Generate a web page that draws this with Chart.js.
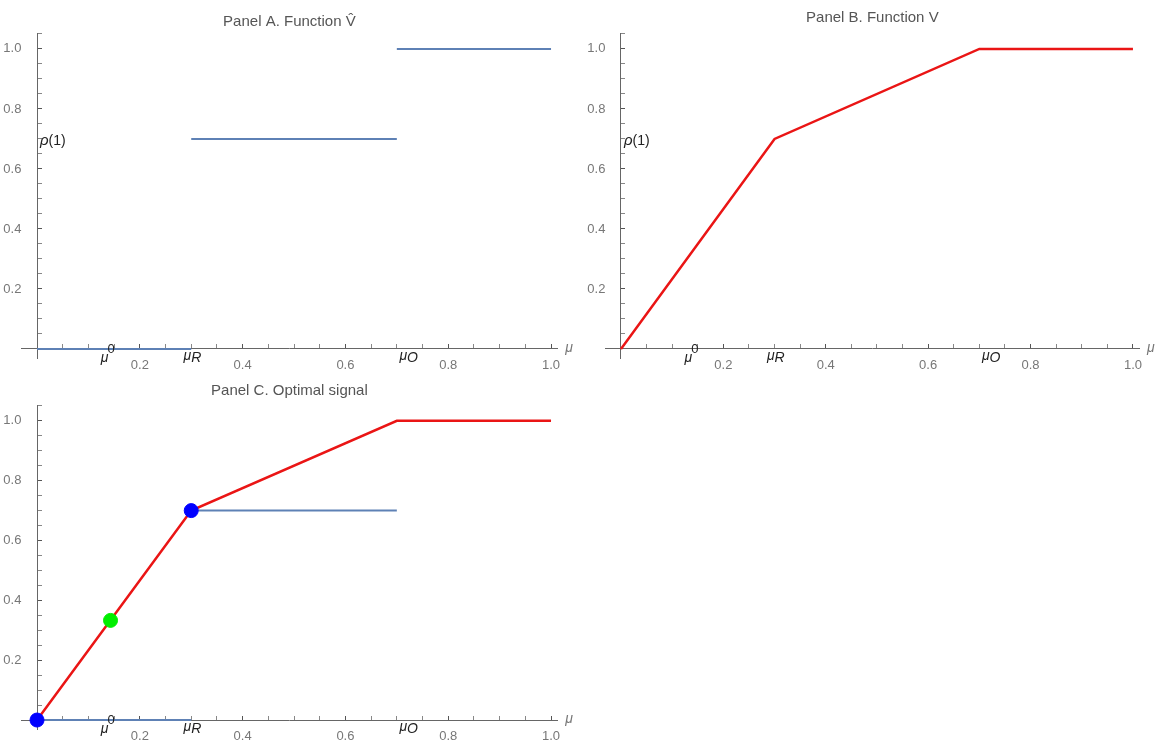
<!DOCTYPE html>
<html lang="en">
<head>
  <meta charset="UTF-8">
  <title>Panels A, B, C</title>
  <script src="https://cdn.jsdelivr.net/npm/chart.js"></script>
  <style>
    body { margin: 0; background: #fff; width: 1174px; height: 746px; position: relative; overflow: hidden; }
    .panel { position: absolute; }
    #boxA { left: 0; top: 0; width: 585px; height: 380px; }
    #boxB { left: 585px; top: 0; width: 589px; height: 380px; }
    #boxC { left: 0; top: 376px; width: 585px; height: 370px; }
  </style>
</head>
<body>
  <div class="panel" id="boxA"><canvas id="chartA"></canvas></div>
  <div class="panel" id="boxB"><canvas id="chartB"></canvas></div>
  <div class="panel" id="boxC"><canvas id="chartC"></canvas></div>

  <script>
    // step function V-hat: value on each interval [start, end]
    const stepStart = [0, 0.3, 0.7];
    const stepEnd = [0.3, 0.7, 1.0];
    const stepValue = [0, 0.7, 1.0];

    // concave closure V
    const vX = [0, 0.3, 0.7, 1.0];
    const vY = [0, 0.7, 1.0, 1.0];

    // optimal signal: posteriors (blue) and prior (green)
    const postX = [0, 0.3];
    const postY = [0, 0.7];
    const priorX = [0.143];
    const priorY = [0.333];

    // marked beliefs on the mu axis
    const mu0 = 0.143, muR = 0.3, muO = 0.72;
    const rho1 = 0.7;

    const xLabels = [0.2, 0.4, 0.6, 0.8, 1.0];
    const yLabels = [0.2, 0.4, 0.6, 0.8, 1.0];

    const BLUE = '#5e81b5', RED = '#ea1515';
    const FONT = '"Liberation Sans", Arial, sans-serif';

    function isLabel(v, list) {
      return list.some(t => Math.abs(t - v) < 1e-6);
    }

    function stepSets(n) {
      const sets = [];
      for (let i = 0; i < n; i++) {
        sets.push({
          data: [{ x: stepStart[i], y: stepValue[i] }, { x: stepEnd[i], y: stepValue[i] }],
          borderColor: BLUE, borderWidth: 2, pointRadius: 0, order: 3
        });
      }
      return sets;
    }

    const vSet = {
      data: vX.map((x, i) => ({ x, y: vY[i] })),
      borderColor: RED, borderWidth: 2.5, pointRadius: 0, order: 2
    };

    // axes sit inside the plot, so they take no room in the layout
    function noRoom(s) {
      if (s.isHorizontal()) s.height = 0; else s.width = 0;
      s.paddingLeft = s.paddingRight = s.paddingTop = s.paddingBottom = 0;
    }

    // text notes on the axes, placed through the scales
    const axisNotes = {
      id: 'axisNotes',
      afterDraw(chart, args, opts) {
        const { ctx, scales: { x, y } } = chart;
        const y0 = y.getPixelForValue(0);
        ctx.save();
        ctx.textBaseline = 'alphabetic';
        // mu at end of axis
        ctx.fillStyle = '#777';
        ctx.font = 'italic 14px ' + FONT;
        ctx.textAlign = 'left';
        ctx.fillText('μ', x.right + 8, y0 + 3);

        ctx.fillStyle = '#222';
        // mu^0
        let px = x.getPixelForValue(mu0);
        ctx.font = 'italic 14px ' + FONT;
        ctx.textAlign = 'right';
        ctx.fillText('μ', px - 2, y0 + 13);
        ctx.font = '13px ' + FONT;
        ctx.textAlign = 'left';
        ctx.fillText('0', px - 3, y0 + 4);
        // mu_R
        px = x.getPixelForValue(muR);
        ctx.font = 'italic 14px ' + FONT;
        ctx.textAlign = 'right';
        ctx.fillText('μ', px, y0 + 11);
        ctx.textAlign = 'left';
        ctx.fillText('R', px, y0 + 13);
        // mu_O
        px = x.getPixelForValue(muO);
        ctx.textAlign = 'right';
        ctx.fillText('μ', px, y0 + 11);
        ctx.textAlign = 'left';
        ctx.fillText('O', px, y0 + 13);
        // rho(1)
        if (opts.rho) {
          const py = y.getPixelForValue(rho1);
          const x0 = x.getPixelForValue(0) + 3;
          ctx.font = 'italic 15px ' + FONT;
          ctx.fillText('ρ', x0, py + 6);
          const w = ctx.measureText('ρ').width;
          ctx.font = '14px ' + FONT;
          ctx.fillText('(1)', x0 + w, py + 6);
        }
        ctx.restore();
      }
    };

    function makeOptions(title, rho, titlePad, pad) {
      return {
        responsive: true,
        maintainAspectRatio: false,
        animation: false,
        layout: { padding: pad },
        plugins: {
          legend: { display: false },
          tooltip: { enabled: false },
          title: {
            display: true, text: title, color: '#555',
            font: { family: FONT, size: 15, weight: 'normal', lineHeight: 1.2 },
            padding: titlePad
          },
          axisNotes: { rho }
        },
        scales: {
          x: {
            type: 'linear', min: -0.03, max: 1.012,
            position: { y: 0 },
            afterFit: noRoom,
            border: { color: '#666', width: 1 },
            grid: {
              drawOnChartArea: false, drawTicks: true, tickLength: -5,
              tickColor: c => isLabel(c.tick.value, xLabels) ? '#555' : '#888'
            },
            ticks: {
              stepSize: 0.05, includeBounds: false, autoSkip: false, maxRotation: 0,
              padding: 14, color: '#777', font: { family: FONT, size: 13 },
              callback: v => isLabel(v, xLabels) ? v.toFixed(1) : ''
            }
          },
          y: {
            type: 'linear', min: -0.03, max: 1.053,
            position: { x: 0 },
            afterFit: noRoom,
            border: { color: '#666', width: 1 },
            grid: {
              drawOnChartArea: false, drawTicks: true, tickLength: -5,
              tickColor: c => isLabel(c.tick.value, yLabels) ? '#555' : '#888'
            },
            ticks: {
              stepSize: 0.05, includeBounds: false, autoSkip: false,
              color: '#777', font: { family: FONT, size: 13 },
              callback: v => isLabel(v, yLabels) ? v.toFixed(1) + '\u2002\u2002\u2009' : ''
            }
          }
        }
      };
    }

    new Chart(document.getElementById('chartA'), {
      type: 'line',
      data: { datasets: stepSets(3) },
      options: makeOptions('Panel A. Function V\u0302', true, { top: 13, bottom: 2 },
        { left: 21.6, right: 27.8, top: 0, bottom: 22 }),
      plugins: [axisNotes]
    });

    new Chart(document.getElementById('chartB'), {
      type: 'line',
      data: { datasets: [Object.assign({}, vSet)] },
      options: makeOptions('Panel B. Function V', true, { top: 9, bottom: 6 },
        { left: 20.6, right: 34.9, top: 0, bottom: 22 }),
      plugins: [axisNotes]
    });

    new Chart(document.getElementById('chartC'), {
      type: 'line',
      data: {
        datasets: [
          {
            type: 'scatter',
            data: postX.map((x, i) => ({ x, y: postY[i] })),
            backgroundColor: '#0000ff', borderColor: '#0000ff',
            pointRadius: 7, order: 1
          },
          {
            type: 'scatter',
            data: priorX.map((x, i) => ({ x, y: priorY[i] })),
            backgroundColor: '#00ee00', borderColor: '#00ee00',
            pointRadius: 7, order: 1
          },
          Object.assign({}, vSet),
          ...stepSets(2)
        ]
      },
      options: makeOptions('Panel C. Optimal signal', false, { top: 6, bottom: 5 },
        { left: 21.6, right: 27.8, top: 0, bottom: 17 }),
      plugins: [axisNotes]
    });
  </script>
</body>
</html>
